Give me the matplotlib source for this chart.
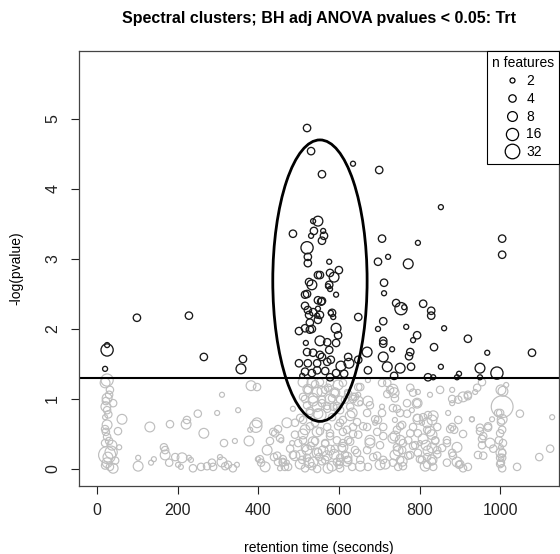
import numpy as np
import matplotlib
matplotlib.use("Agg")
import matplotlib.pyplot as plt
from matplotlib.patches import Ellipse
from matplotlib.lines import Line2D

plt.rcParams['font.family'] = ['Liberation Sans', 'DejaVu Sans']

# spectral clusters: retention time (s), -log10(adj pvalue), number of features
rt = [
    # significant clusters
    99, 228, 25, 25, 265, 362, 357, 20, 521, 531, 635, 558, 700, 853, 1005, 1005,
    536, 548, 486, 538, 531, 561, 563, 558, 521, 523, 523, 576, 600, 578, 588, 548,
    553, 526, 533, 521, 578, 576, 593, 558, 548, 516, 523, 536, 548, 553, 583, 586,
    648, 707, 796, 697, 722, 772, 712, 712, 742, 754, 762, 809, 829, 829, 710, 501,
    516, 528, 553, 571, 518, 593, 598, 593, 521, 536, 553, 576, 501, 523, 546, 558,
    571, 580, 605, 623, 625, 648, 516, 533, 546, 566, 593, 573, 516, 556, 526, 546,
    548, 580, 528, 533, 697, 710, 710, 732, 670, 710, 672, 720, 737, 767, 794, 784,
    861, 920, 777, 774, 836, 968, 1079, 752, 779, 853, 950, 821, 834, 893, 898, 950,
    992, 509, 578, 613,
    # left column
    25, 20, 32, 25, 22, 25, 40, 20, 25, 22, 25, 20, 37, 25, 27, 25, 32, 40, 55, 52,
    62, 30, 22, 28, 20, 30, 35, 45, 20,
    # 100 - 500 s
    102, 102, 141, 134, 131, 169, 166, 169, 181, 179, 194, 211, 201, 208, 223, 221,
    228, 233, 250, 265, 238, 258, 273, 285, 288, 305, 310, 318, 310, 298, 315, 337,
    325, 342, 350, 347, 382, 377, 394, 380, 399, 407, 417, 429, 422, 439, 449, 437,
    449, 457, 461, 471, 466, 454, 486, 491, 474, 397, 397,
    # 480 - 660 s
    511, 533, 553, 578, 598, 523, 546, 566, 590, 511, 536, 558, 583, 615, 521, 546,
    571, 595, 635, 648, 628, 528, 553, 583, 511, 541, 571, 603, 516, 546, 578, 610,
    635, 511, 536, 566, 595, 623, 521, 548, 578, 608, 509, 536, 566, 595, 623, 516,
    546, 573, 603, 471, 486, 484, 491, 461, 653, 672, 707, 727, 739,
    633, 610, 645, 620, 648, 628, 610, 640, 620, 653, 603, 633, 648, 620, 640, 603,
    653, 586, 603,
    # 650 - 1130 s
    677, 707, 670, 697, 670, 695, 710, 677, 702, 670, 685, 710, 672, 702, 690, 720,
    737, 777, 784, 796, 794, 826, 851, 881, 908, 920, 938, 955, 1002, 1015, 1005,
    734, 752, 739, 757, 744, 734, 752, 744, 757, 739, 752, 734, 747, 759, 777, 772,
    769, 781, 794, 784, 789,
    821, 831, 844, 819, 831, 839, 816, 831, 844, 819, 831, 819, 834, 806, 796, 801,
    796, 806, 809,
    881, 886, 896, 868, 893, 881, 868, 898, 881, 896, 871, 930, 970, 958, 950, 955,
    945, 920, 908, 893, 983,
    1000, 1002, 1005, 997, 1002, 1005, 1000, 1002, 1005, 1049, 1042, 1129, 1124, 1097,
]

logp = [
    2.16, 2.19, 1.77, 1.70, 1.60, 1.57, 1.43, 1.43, 4.87, 4.54, 4.36, 4.21, 4.27, 3.74, 3.29, 3.06,
    3.54, 3.54, 3.36, 3.40, 3.33, 3.40, 3.33, 3.26, 3.16, 3.03, 2.94, 2.96, 2.84, 2.80, 2.74, 2.77,
    2.77, 2.67, 2.63, 2.50, 2.57, 2.63, 2.49, 2.40, 2.41, 2.33, 2.27, 2.24, 2.29, 2.20, 2.23, 2.17,
    2.17, 3.29, 3.23, 2.96, 3.03, 2.93, 2.66, 2.51, 2.37, 2.29, 2.31, 2.36, 2.26, 2.19, 2.11, 1.97,
    2.01, 1.99, 1.83, 1.81, 1.80, 2.01, 1.91, 1.80, 1.67, 1.66, 1.63, 1.70, 1.51, 1.51, 1.51, 1.60,
    1.53, 1.56, 1.47, 1.60, 1.51, 1.56, 1.39, 1.37, 1.41, 1.40, 1.37, 2.61, 2.49, 2.39, 2.20, 2.19,
    2.13, 2.23, 2.09, 2.00, 2.00, 1.83, 1.79, 1.71, 1.67, 1.60, 1.41, 1.46, 1.33, 2.03, 1.91, 1.84,
    2.01, 1.86, 1.67, 1.61, 1.74, 1.66, 1.66, 1.44, 1.46, 1.46, 1.44, 1.31, 1.31, 1.31, 1.36, 1.31,
    1.37, 1.33, 1.31, 1.36,
    1.27, 1.23, 1.13, 1.01, 0.89, 0.84, 0.94, 0.74, 0.63, 0.53, 0.46, 0.37, 0.34, 0.20, 0.17, 0.09,
    0.03, 0.01, 0.31, 0.54, 0.71, 1.06, 0.97, 0.78, 0.57, 0.40, 0.24, 0.12, 0.05,
    0.04, 0.16, 0.14, 0.09, 0.60, 0.20, 0.31, 0.27, 0.64, 0.09, 0.17, 0.16, 0.06, 0.03, 0.70, 0.64,
    0.16, 0.13, 0.79, 0.51, 0.01, 0.03, 0.04, 0.09, 0.03, 0.17, 0.10, 0.04, 1.06, 0.80, 0.37, 0.01,
    0.06, 0.40, 0.84, 0.06, 1.19, 0.40, 0.61, 0.56, 0.14, 0.09, 0.03, 0.40, 0.27, 0.17, 0.10, 0.53,
    0.57, 0.41, 0.14, 0.66, 0.03, 0.01, 0.86, 0.66, 0.03, 1.17, 0.66,
    1.24, 1.23, 1.24, 1.23, 1.20, 1.13, 1.10, 1.13, 1.09, 1.03, 1.01, 0.99, 1.01, 0.99, 0.91, 0.89,
    0.90, 0.87, 1.03, 1.06, 0.89, 0.80, 0.77, 0.74, 0.70, 0.66, 0.60, 0.66, 0.56, 0.53, 0.51, 0.53,
    0.60, 0.41, 0.39, 0.37, 0.41, 0.41, 0.27, 0.24, 0.27, 0.30, 0.13, 0.10, 0.13, 0.10, 0.13, 0.01,
    0.00, 0.01, 0.01, 0.09, 0.20, 0.37, 0.49, 0.10, 1.17, 1.27, 1.23, 1.13, 1.01,
    0.80, 0.70, 0.67, 0.56, 0.49, 0.39, 0.31, 0.27, 0.17, 0.13, 0.10, 0.03, 1.17, 1.10, 1.03, 0.99,
    0.94, 0.89, 0.84,
    0.91, 0.89, 0.80, 0.70, 0.60, 0.53, 0.60, 0.41, 0.34, 0.27, 0.17, 0.13, 0.03, 0.06, 0.66, 1.23,
    1.09, 1.16, 1.09, 1.10, 0.94, 1.06, 1.13, 1.13, 1.03, 1.06, 1.10, 1.24, 1.13, 1.20, 0.89,
    0.87, 0.80, 0.70, 0.63, 0.56, 0.44, 0.41, 0.31, 0.27, 0.20, 0.13, 0.09, 0.03, 0.04, 0.20, 0.41,
    0.94, 0.84, 0.73, 0.60, 0.34,
    0.77, 0.70, 0.60, 0.56, 0.49, 0.41, 0.34, 0.30, 0.27, 0.17, 0.13, 0.06, 0.03, 0.13, 0.23, 0.37,
    0.51, 0.66, 0.74,
    0.60, 0.56, 0.70, 0.41, 0.31, 0.23, 0.09, 0.06, 0.94, 0.99, 0.80, 0.71, 0.61, 0.47, 0.59, 0.34,
    0.20, 0.03, 0.01, 0.10, 0.29,
    0.80, 0.67, 0.56, 0.41, 0.31, 0.23, 0.16, 0.09, 0.01, 0.79, 0.03, 0.74, 0.29, 0.17,
]

n_feat = [
    4, 4, 2, 16, 4, 4, 8, 2, 4, 4, 2, 4, 4, 2, 4, 4,
    2, 8, 4, 4, 2, 2, 4, 4, 16, 4, 4, 2, 4, 4, 8, 4,
    4, 4, 8, 4, 2, 4, 2, 4, 4, 4, 4, 4, 2, 4, 4, 2,
    4, 4, 2, 4, 2, 8, 4, 2, 4, 16, 2, 4, 4, 4, 4, 4,
    4, 4, 8, 4, 2, 8, 4, 4, 4, 4, 4, 4, 4, 4, 4, 4,
    4, 4, 8, 4, 8, 4, 4, 4, 4, 4, 4, 2, 4, 4, 4, 2,
    4, 2, 4, 4, 2, 4, 4, 2, 8, 8, 4, 8, 4, 2, 4, 2,
    2, 4, 4, 4, 4, 2, 4, 8, 4, 2, 8, 4, 2, 2, 2, 2,
    16, 2, 4, 4,
    16, 8, 4, 8, 8, 4, 4, 2, 8, 4, 4, 4, 8, 64, 8, 8,
    4, 8, 2, 4, 8, 4, 4, 4, 4, 4, 16, 4, 4,
    8, 2, 2, 2, 8, 8, 4, 4, 4, 4, 4, 8, 2, 2, 4, 8,
    2, 2, 4, 8, 4, 4, 4, 4, 4, 2, 8, 4, 2, 2, 4, 4,
    4, 2, 2, 2, 8, 8, 16, 2, 2, 4, 8, 4, 8, 4, 4, 4,
    4, 2, 4, 8, 4, 2, 2, 4, 4, 4, 8,
    8, 8, 4, 4, 8, 4, 8, 4, 4, 4, 8, 4, 4, 4, 4, 8,
    4, 4, 4, 2, 4, 4, 16, 4, 4, 4, 4, 4, 8, 8, 4, 4,
    4, 4, 8, 4, 4, 4, 8, 4, 8, 4, 4, 8, 4, 4, 4, 4,
    4, 8, 4, 2, 4, 2, 4, 4, 4, 2, 4, 4, 4,
    8, 4, 4, 4, 4, 4, 8, 4, 8, 4, 4, 4, 4, 2, 4, 4,
    2, 4, 4,
    4, 2, 4, 4, 4, 4, 4, 8, 4, 4, 4, 4, 4, 8, 2, 4,
    8, 4, 4, 2, 8, 2, 4, 2, 8, 4, 2, 4, 8, 2, 256,
    4, 4, 2, 4, 4, 8, 8, 4, 4, 8, 4, 4, 4, 4, 4, 4,
    4, 2, 4, 4, 4,
    4, 8, 4, 4, 8, 4, 8, 8, 4, 4, 8, 4, 4, 4, 4, 2,
    4, 2, 4,
    4, 4, 4, 4, 8, 4, 4, 4, 2, 4, 2, 2, 4, 4, 4, 4,
    4, 4, 4, 8, 4,
    4, 4, 4, 4, 2, 4, 4, 4, 4, 4, 4, 2, 4, 4,
]

# further non-significant clusters in the crowded 400 - 1010 s band
rt_more = [
    404, 442, 454, 447, 461, 479, 491, 499, 504, 511, 516, 521, 528, 533, 541, 546,
    553, 558, 566, 571, 578, 583, 590, 598, 603, 610, 620, 628, 635, 645, 653, 660,
    672, 677, 690, 695, 707, 710, 715, 720, 734, 739, 744, 747, 752, 757, 759, 769,
    772, 777, 784, 794, 796, 801, 809, 814, 819, 821, 826, 831, 834, 839, 844, 856,
    868, 876, 881, 883, 901, 908, 920, 930, 943, 950, 955, 958, 970, 975, 980, 995,
    1005, 1000, 1007, 1002, 1005, 1000, 1007, 523, 541, 558, 573, 590, 516, 536, 558, 578,
    595, 528, 548, 571, 504, 610, 623, 635, 648, 506, 526, 551, 561, 588, 600, 615,
    530,
]

logp_more = [
    0.14, 0.51, 0.44, 0.19, 0.09, 0.29, 0.19, 0.37, 0.07, 0.50, 0.30, 0.16, 0.61, 0.04, 0.40, 0.23,
    0.54, 0.11, 0.36, 0.19, 0.47, 0.04, 0.29, 0.61, 0.16, 0.37, 0.11, 0.76, 0.50, 0.23, 0.04, 0.61,
    0.97, 0.37, 0.71, 0.19, 0.80, 0.47, 0.07, 1.07, 1.14, 0.47, 0.86, 0.26, 0.61, 0.11, 0.37, 0.79,
    0.19, 0.51, 0.33, 0.94, 0.71, 0.14, 0.43, 0.04, 0.66, 0.26, 0.54, 0.11, 0.76, 0.40, 0.21, 0.30,
    0.37, 0.57, 1.00, 0.19, 0.07, 0.50, 1.04, 0.71, 1.16, 0.54, 0.43, 0.19, 0.59, 0.37, 0.71, 0.80,
    0.71, 0.51, 0.37, 0.23, 0.16, 0.07, 1.11, 1.14, 1.21, 1.11, 1.16, 1.09, 1.00, 0.97, 0.94, 1.00,
    0.90, 0.83, 0.79, 0.86, 0.73, 1.23, 1.07, 1.00, 0.97, 0.20, 0.09, 0.17, 0.26, 0.21, 0.06, 0.20,
    0.33,
]

n_more = [
    4, 4, 4, 4, 4, 4, 8, 4, 8, 8, 4, 4, 4, 4, 4, 8,
    4, 4, 4, 8, 4, 8, 4, 4, 4, 4, 8, 8, 4, 4, 8, 4,
    8, 8, 4, 4, 4, 4, 8, 4, 8, 8, 4, 8, 4, 8, 4, 4,
    4, 4, 4, 4, 8, 4, 8, 8, 8, 8, 8, 4, 8, 4, 4, 4,
    4, 4, 4, 4, 4, 4, 4, 2, 4, 4, 4, 4, 4, 8, 2, 4,
    8, 4, 4, 8, 4, 4, 8, 8, 4, 8, 4, 8, 4, 8, 4, 8,
    4, 4, 8, 4, 4, 4, 4, 4, 8, 8, 8, 4, 8, 8, 4, 4,
    4,
]

legend_n = [2, 4, 8, 16, 32]
alpha = 0.05


def marker_diam(n):
    # circle diameter in points grows with log2 of the feature count
    return 0.72 * (2.4 * np.log2(n) + 2.6)


def main():
    x = np.array(rt + rt_more, dtype=float)
    y = np.array(logp + logp_more, dtype=float)
    n = np.array(n_feat + n_more, dtype=float)
    cut = -np.log10(alpha)
    sig = y > cut
    sizes = marker_diam(n) ** 2

    fig = plt.figure(figsize=(5.6, 5.54), dpi=100)
    ax = fig.add_axes([79 / 560, 68 / 554, 480 / 560, 435 / 554])

    ax.scatter(x[~sig], y[~sig], s=sizes[~sig], facecolors="none",
               edgecolors="#bebebe", linewidths=0.85)
    ax.scatter(x[sig], y[sig], s=sizes[sig], facecolors="none",
               edgecolors="#1a1a1a", linewidths=0.95)

    ax.axhline(cut, color="black", lw=1.5)
    ax.add_patch(Ellipse((553, 2.69), 234, 4.02, fill=False, lw=2.0,
                         edgecolor="black"))

    ax.set_xlim(-44.7, 1146)
    ax.set_ylim(-0.243, 5.97)
    ax.set_xticks([0, 200, 400, 600, 800, 1000])
    ax.set_yticks([0, 1, 2, 3, 4, 5])
    ax.tick_params(direction="out", length=5.5, width=0.8, labelsize=11.5,
                   colors="#222222")
    ax.tick_params(axis="x", pad=7)
    ax.tick_params(axis="y", pad=8, labelrotation=90)
    for lbl in ax.get_yticklabels():
        lbl.set_va("center")
    for sp in ax.spines.values():
        sp.set_linewidth(0.9)
        sp.set_color("#444444")

    ax.set_xlabel("retention time (seconds)", fontsize=10, labelpad=16)
    ax.set_ylabel("-log(pvalue)", fontsize=10, labelpad=16)
    fig.text(319 / 560, 1 - 18 / 554,
             "Spectral clusters; BH adj ANOVA pvalues < 0.05: Trt",
             ha="center", va="center", fontsize=11.5, fontweight="bold")

    handles = [Line2D([], [], ls="none", marker="o", markersize=marker_diam(k),
                      mfc="none", mec="black", mew=0.9) for k in legend_n]
    leg = ax.legend(handles, [str(k) for k in legend_n], title="n features",
                    loc="upper right", borderaxespad=0, fancybox=False,
                    edgecolor="black", framealpha=1, fontsize=10,
                    title_fontsize=10, handlelength=1.2, handletextpad=0.4,
                    labelspacing=0.28, borderpad=0.35)
    leg.get_frame().set_linewidth(0.8)

    fig.savefig("out.png", dpi=100)


if __name__ == "__main__":
    main()
